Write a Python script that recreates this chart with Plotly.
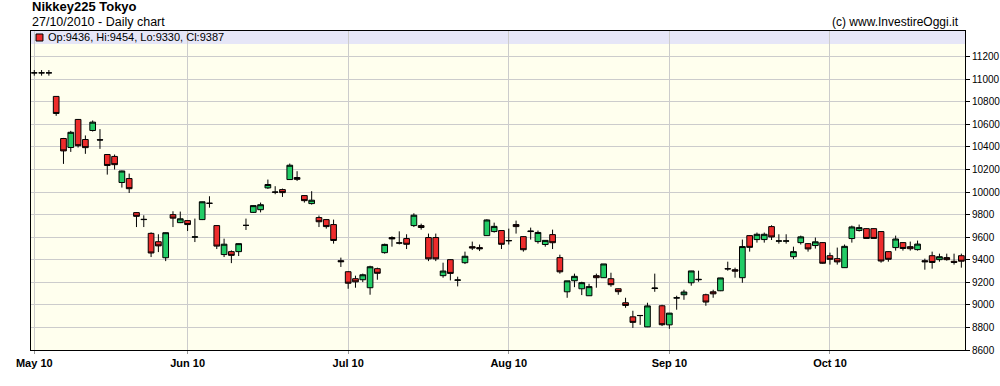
import pandas as pd
import plotly.graph_objects as go

# Trading-day categories (weekdays, holidays shown as repeated candles)
dates = [d.strftime("%Y-%m-%d") for d in pd.bdate_range("2010-05-03", "2010-10-27")]

opens = [11057, 11057, 11057, 10848, 10475, 10395, 10644, 10466, 10546, 10464,
         10333, 10316, 10085, 10120, 9818, 9756, 9634, 9560, 9418, 9800,
         9729, 9747, 9600, 9756, 9900, 9703, 9446, 9472, 9472, 9705,
         9820, 9844, 10037, 10001, 10022, 10111, 10129, 9969, 9898, 9774,
         9756, 9712, 9392, 9294, 9232, 9223, 9152, 9321, 9463, 9597,
         9550, 9588, 9703, 9703, 9597, 9597, 9259, 9401, 9218, 9374,
         9516, 9508, 9614, 9650, 9659, 9568, 9712, 9605, 9650, 9561,
         9535, 9623, 9419, 9116, 9214, 9143, 9081, 9259, 9241, 9232,
         9143, 9019, 8894, 8905, 8805, 9145, 8992, 8823, 9060, 9090,
         9196, 9223, 9090, 9116, 9125, 9321, 9312, 9241, 9614, 9579,
         9579, 9694, 9565, 9565, 9427, 9552, 9543, 9526, 9552, 9436,
         9410, 9330, 9588, 9659, 9676, 9676, 9650, 9472, 9508, 9552,
         9516, 9490, 9392, 9436, 9401, 9419, 9386, 9436]
highs = [11082, 11082, 11082, 10850, 10480, 10543, 10648, 10502, 10635, 10558,
         10335, 10333, 10190, 10164, 9822, 9794, 9643, 9626, 9642, 9830,
         9827, 9750, 9765, 9916, 9963, 9706, 9587, 9483, 9545, 9765,
         9882, 9907, 10111, 10052, 10031, 10253, 10185, 9972, 10008, 9792,
         9760, 9756, 9419, 9298, 9259, 9277, 9347, 9330, 9543, 9608,
         9652, 9626, 9812, 9720, 9632, 9632, 9374, 9404, 9250, 9472,
         9561, 9535, 9759, 9729, 9662, 9676, 9747, 9608, 9685, 9659,
         9572, 9667, 9445, 9213, 9277, 9205, 9187, 9277, 9363, 9285,
         9146, 9063, 8948, 8908, 9019, 9277, 9001, 8927, 9081, 9134,
         9302, 9303, 9099, 9134, 9240, 9383, 9330, 9579, 9617, 9641,
         9641, 9706, 9626, 9626, 9516, 9614, 9548, 9597, 9556, 9463,
         9508, 9535, 9703, 9712, 9680, 9680, 9653, 9475, 9614, 9555,
         9561, 9570, 9410, 9472, 9454, 9454, 9454, 9454]
lows = [11032, 11032, 11032, 10676, 10250, 10356, 10395, 10339, 10537, 10383,
        10155, 10200, 10040, 9992, 9690, 9690, 9424, 9468, 9388, 9690,
        9725, 9655, 9557, 9752, 9862, 9495, 9424, 9370, 9433, 9664,
        9815, 9820, 10028, 9981, 9957, 10108, 10099, 9907, 9889, 9690,
        9676, 9543, 9336, 9143, 9152, 9202, 9090, 9223, 9454, 9516,
        9536, 9495, 9690, 9667, 9388, 9388, 9241, 9217, 9164, 9362,
        9486, 9477, 9612, 9641, 9495, 9535, 9632, 9472, 9579, 9543,
        9516, 9495, 9277, 9063, 9157, 9087, 9079, 9152, 9238, 9161,
        9090, 8974, 8796, 8823, 8803, 9116, 8812, 8788, 8957, 9045,
        9170, 9205, 8992, 9063, 9122, 9303, 9241, 9196, 9472, 9552,
        9552, 9575, 9543, 9543, 9406, 9535, 9472, 9499, 9365, 9357,
        9357, 9328, 9552, 9650, 9588, 9588, 9374, 9383, 9481, 9481,
        9481, 9481, 9312, 9321, 9383, 9392, 9357, 9330]
closes = [11057, 11057, 11057, 10697, 10365, 10530, 10411, 10394, 10620, 10462,
          10236, 10243, 10187, 10030, 9785, 9758, 9460, 9523, 9640, 9769,
          9763, 9712, 9603, 9914, 9901, 9521, 9538, 9439, 9543, 9705,
          9880, 9888, 10067, 9999, 9995, 10238, 10113, 9924, 9928, 9737,
          9694, 9571, 9383, 9192, 9204, 9267, 9338, 9280, 9536, 9585,
          9548, 9537, 9795, 9686, 9408, 9408, 9300, 9279, 9221, 9431,
          9504, 9497, 9753, 9696, 9537, 9570, 9694, 9489, 9654, 9642,
          9572, 9551, 9293, 9213, 9253, 9197, 9162, 9241, 9363, 9179,
          9117, 8995, 8845, 8906, 8991, 9149, 8824, 8927, 9063, 9114,
          9301, 9226, 9025, 9098, 9239, 9319, 9299, 9517, 9510, 9626,
          9626, 9602, 9567, 9567, 9472, 9603, 9496, 9559, 9369, 9404,
          9381, 9519, 9691, 9685, 9589, 9589, 9389, 9404, 9584, 9500,
          9498, 9539, 9382, 9376, 9427, 9401, 9377, 9387]

month_ticks = ["2010-05-03", "2010-06-01", "2010-07-01", "2010-08-02", "2010-09-01", "2010-10-01"]
month_labels = ["May 10", "Jun 10", "Jul 10", "Aug 10", "Sep 10", "Oct 10"]
price_ticks = [8600, 8800, 9000, 9200, 9400, 9600, 9800, 10000, 10200, 10400,
               10600, 10800, 11000, 11200]

fig = go.Figure(go.Candlestick(
    x=dates, open=opens, high=highs, low=lows, close=closes,
    increasing=dict(fillcolor="#22CC66", line=dict(color="black", width=1)),
    decreasing=dict(fillcolor="#EE2C2C", line=dict(color="black", width=1)),
    whiskerwidth=0, hoverinfo="x+y", showlegend=False,
))

# legend band at top of plot area
fig.add_shape(type="rect", xref="paper", yref="y", x0=0, x1=1, y0=11313, y1=11428,
              fillcolor="#E6E6F7", line=dict(width=0), layer="below")
fig.add_shape(type="rect", xref="paper", yref="paper", x0=0.0054, x1=0.0128,
              y0=0.9686, y1=0.9906, fillcolor="#EE2C2C", line=dict(color="black", width=1))

fig.add_annotation(text="Op:9436, Hi:9454, Lo:9330, Cl:9387", xref="paper", yref="paper",
                   x=0.0165, y=0.9812, xanchor="left", yanchor="middle", showarrow=False,
                   font=dict(family="Arial", size=11, color="black"))
fig.add_annotation(text="<b>Nikkey225 Tokyo</b>", xref="paper", yref="paper",
                   x=-0.0015, y=1.0754, xanchor="left", yanchor="middle", showarrow=False,
                   font=dict(family="Arial", size=13, color="black"))
fig.add_annotation(text="27/10/2010 - Daily chart", xref="paper", yref="paper",
                   x=-0.0015, y=1.0283, xanchor="left", yanchor="middle", showarrow=False,
                   font=dict(family="Arial", size=12.5, color="black"))
fig.add_annotation(text="(c) www.InvestireOggi.it", xref="paper", yref="paper",
                   x=0.9957, y=1.0283, xanchor="right", yanchor="middle", showarrow=False,
                   font=dict(family="Arial", size=12, color="black"))

fig.update_layout(
    width=1000, height=386,
    margin=dict(l=31, r=35, t=31, b=36, autoexpand=False),
    paper_bgcolor="white", plot_bgcolor="#FFFFEE",
    boxgap=0.22, boxgroupgap=0,
    font=dict(family="Arial", size=11, color="black"),
    xaxis=dict(type="category", range=[-0.45, 127.5], rangeslider=dict(visible=False),
               tickmode="array", tickvals=month_ticks,
               ticktext=["<b>%s</b>" % t for t in month_labels],
               showgrid=True, gridcolor="#CCCCCC", gridwidth=1, automargin=False,
               showline=True, linecolor="black", linewidth=1, mirror=True,
               ticks="outside", ticklen=3, tickcolor="#999999",
               tickfont=dict(family="Arial", size=11, color="black")),
    yaxis=dict(range=[8600, 11428], side="right", tickmode="array", tickvals=price_ticks,
               ticktext=[str(v) for v in price_ticks], automargin=False,
               showgrid=True, gridcolor="#CCCCCC", gridwidth=1,
               showline=True, linecolor="black", linewidth=1, mirror=True,
               ticks="outside", ticklen=4, tickcolor="black",
               tickfont=dict(family="Arial", size=10, color="black"), zeroline=False),
)

fig.write_html("out.html")
